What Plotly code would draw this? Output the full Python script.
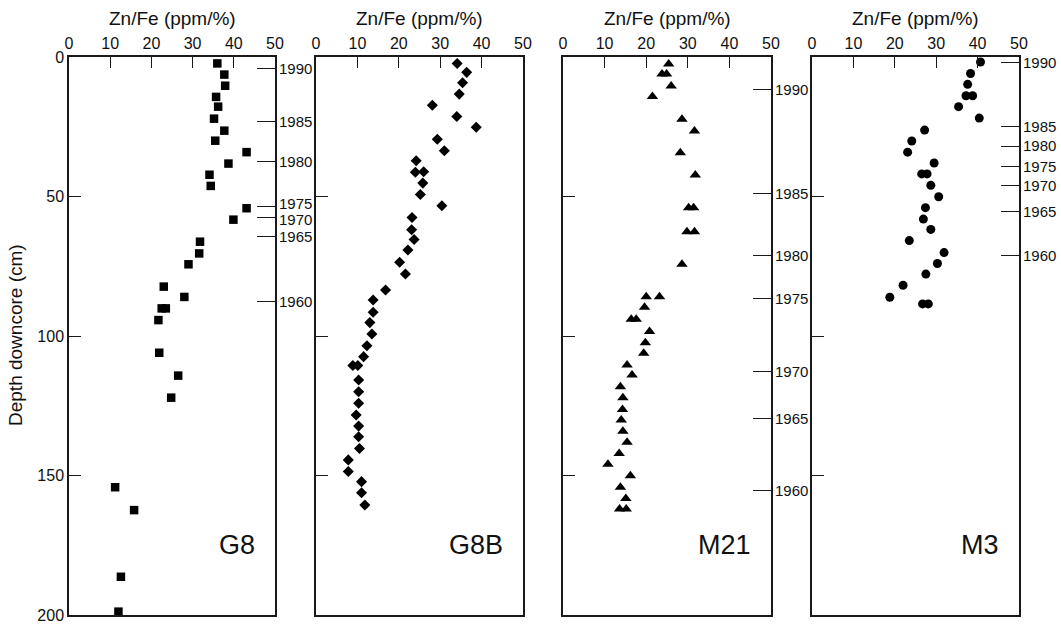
import plotly.graph_objects as go

# ---------------- data ----------------
g8_zn = [36.0, 37.7, 37.9, 35.7, 36.2, 35.2, 37.7, 35.5, 43.1, 38.7, 34.1, 34.4, 43.1, 39.9,
         31.8, 31.6, 29.0, 23.0, 28.0, 22.5, 23.5, 21.7, 21.9, 26.5, 24.8, 11.2, 15.8, 12.6, 12.0]
g8_depth = [2.3, 6.3, 10.3, 14.3, 17.8, 22.1, 26.4, 30.0, 34.1, 38.2, 42.2, 46.2, 54.2, 58.3,
            66.2, 70.4, 74.3, 82.3, 86.0, 90.1, 90.1, 94.3, 106.0, 114.2, 122.1, 154.2, 162.4, 186.3, 198.8]

g8b_zn = [34.1, 36.4, 35.4, 34.6, 28.1, 34.0, 38.7, 29.3, 31.0, 24.2, 24.0, 26.0, 25.8, 25.2,
          30.4, 23.2, 23.1, 23.7, 22.2, 20.2, 21.6, 16.8, 13.8, 13.8, 13.0, 13.5, 12.3, 11.5,
          8.9, 10.1, 10.3, 10.3, 10.3, 9.7, 10.3, 10.3, 10.5, 7.8, 7.8, 11.0, 11.0, 11.8]
g8b_depth = [2.3, 5.5, 9.2, 13.3, 17.3, 21.3, 25.2, 29.5, 33.6, 37.2, 41.3, 41.1, 45.2, 49.3,
             53.3, 57.5, 61.9, 65.4, 69.2, 73.6, 77.8, 83.5, 87.1, 91.5, 95.2, 99.3, 103.5, 107.4,
             110.6, 110.6, 115.8, 120.0, 124.1, 128.3, 132.3, 136.1, 140.3, 144.4, 148.6, 152.2, 156.2, 160.6]

m21_zn = [25.4, 23.8, 24.9, 26.0, 21.5, 28.6, 31.6, 28.2, 31.8, 30.2, 31.4, 29.8, 31.6, 28.6,
          20.0, 23.2, 19.6, 16.4, 17.6, 20.8, 19.8, 19.4, 15.4, 16.6, 13.8, 14.4, 14.3, 14.0,
          14.4, 15.4, 13.5, 10.8, 16.2, 13.8, 15.1, 13.6, 15.2]
m21_depth = [2.5, 6.1, 6.1, 10.4, 14.2, 22.3, 26.5, 34.3, 42.3, 54.0, 54.0, 62.6, 62.6, 74.3,
             85.9, 85.9, 89.7, 94.0, 94.0, 98.4, 102.4, 106.2, 110.4, 114.0, 118.2, 122.1, 126.3, 130.1,
             134.1, 138.1, 142.1, 146.0, 150.1, 154.2, 158.2, 162.0, 162.0]

m3_zn = [40.7, 38.3, 37.6, 37.2, 38.8, 35.4, 40.4, 27.2, 24.1, 23.1, 29.5, 26.5, 27.8, 28.7,
         30.6, 27.4, 26.9, 28.7, 23.5, 31.9, 30.3, 27.5, 22.0, 18.8, 26.7, 28.1]
m3_depth = [1.8, 5.9, 9.8, 13.9, 13.9, 17.8, 21.9, 26.2, 30.1, 34.1, 38.0, 41.9, 41.9, 46.0,
            50.1, 54.0, 58.1, 61.8, 65.8, 70.1, 74.0, 77.8, 81.8, 86.1, 88.5, 88.5]

# date (year) markers on the right-hand axes: depth position and year label
g8_date_depth = [4.1, 23.2, 37.3, 53.5, 57.5, 64.4, 87.7]
m21_date_depth = [11.6, 48.9, 71.0, 86.5, 112.8, 129.7, 155.2]
m3_date_depth = [2.0, 25.0, 31.9, 39.3, 45.9, 55.2, 71.3]
date_years = ["1990", "1985", "1980", "1975", "1970", "1965", "1960"]

core_names = ["G8", "G8B", "M21", "M3"]
zn_ticks = [0, 10, 20, 30, 40, 50]
depth_ticks = [0, 50, 100, 150, 200]

# ---------------- layout ----------------
W, H = 1061, 625
FONT = "Liberation Sans, Arial, Helvetica, sans-serif"
LINE = "#1a1a1a"
panels_px = [(69, 275), (316, 523), (563, 771), (812, 1019)]
top_px, bot_px = 57, 615
ydom = [1 - bot_px / H, 1 - top_px / H]
px_per_cm = (bot_px - top_px) / 200.0
DATE_FONT = 15
MIN_SEP = 16  # px between stacked year labels


def label_offsets(depths):
    """Small vertical nudges (px) so crowded year labels do not collide."""
    pos = [d * px_per_cm for d in depths]
    adj = list(pos)
    for _ in range(20):
        for k in range(1, len(adj)):
            gap = adj[k] - adj[k - 1]
            if gap < MIN_SEP:
                push = (MIN_SEP - gap) / 2
                adj[k - 1] -= push
                adj[k] += push
    return [a - p for a, p in zip(adj, pos)]


series = [
    (g8_zn, g8_depth, "square", 8.5),
    (g8b_zn, g8b_depth, "diamond", 8.5),
    (m21_zn, m21_depth, "triangle-up", 10),
    (m3_zn, m3_depth, "circle", 9),
]
dates = [g8_date_depth, None, m21_date_depth, m3_date_depth]

fig = go.Figure()
layout = dict(
    width=W, height=H,
    margin=dict(l=0, r=0, t=0, b=0, pad=0, autoexpand=False),
    paper_bgcolor="white", plot_bgcolor="white",
    showlegend=False,
    font=dict(family=FONT, color="#111", size=14),
)
annotations = []
extra_y = 5
for i, ((xs, ys, sym, sz), (x0, x1)) in enumerate(zip(series, panels_px)):
    n = "" if i == 0 else str(i + 1)
    xa, ya = "x" + n, "y" + n
    fig.add_trace(go.Scatter(
        x=xs, y=ys, mode="markers", xaxis=xa, yaxis=ya,
        marker=dict(symbol=sym, size=sz, color="black", line=dict(width=0)),
    ))
    layout["xaxis" + n] = dict(
        domain=[x0 / W, x1 / W], range=[0, 50], side="top", anchor=ya,
        tickvals=zn_ticks, ticks="inside", ticklen=11, tickwidth=1.3, tickcolor=LINE,
        showline=True, linecolor=LINE, linewidth=1.5, mirror=True, automargin=False,
        showgrid=False, zeroline=False, tickfont=dict(size=16, family=FONT),
        fixedrange=True,
    )
    layout["yaxis" + n] = dict(
        domain=ydom, range=[200, 0], anchor=xa, automargin=False,
        tickvals=depth_ticks, ticks="inside", ticklen=12, tickwidth=1.3, tickcolor=LINE,
        showticklabels=(i == 0), tickfont=dict(size=16, family=FONT),
        showline=True, linecolor=LINE, linewidth=1.5, mirror=True,
        showgrid=False, zeroline=False, fixedrange=True,
    )
    # axis title "Zn/Fe (ppm/%)"
    annotations.append(dict(
        text="Zn/Fe (ppm/%)", xref="paper", yref="paper",
        x=(x0 + x1) / 2 / W, y=1 - 19 / H, showarrow=False,
        font=dict(size=19, family=FONT, color="#111"), xanchor="center", yanchor="middle",
    ))
    # core name
    annotations.append(dict(
        text=core_names[i], xref="paper", yref="paper",
        x=(x1 - 18) / W, y=1 - 545 / H, showarrow=False,
        font=dict(size=27, family=FONT, color="#111"), xanchor="right", yanchor="middle",
    ))
    if dates[i] is not None:
        yn = "y" + str(extra_y)
        layout["yaxis" + str(extra_y)] = dict(
            overlaying=ya, anchor=xa, side="right", range=[200, 0], automargin=False,
            tickvals=dates[i], ticks="inside", ticklen=18, showticklabels=False,
            tickwidth=1.3, tickcolor=LINE, showline=False, showgrid=False, zeroline=False,
            fixedrange=True,
        )
        fig.add_trace(go.Scatter(x=[None], y=[None], xaxis=xa, yaxis=yn,
                                 mode="markers", hoverinfo="skip"))
        for d, yr, off in zip(dates[i], date_years, label_offsets(dates[i])):
            annotations.append(dict(
                text=yr, xref=xa + " domain", yref=ya, x=1, y=d,
                xanchor="left", yanchor="middle", xshift=2, yshift=-off,
                showarrow=False, font=dict(size=DATE_FONT, family=FONT, color="#111"),
            ))
        extra_y += 1

annotations.append(dict(
    text="Depth downcore (cm)", xref="paper", yref="paper",
    x=15 / W, y=1 - 335 / H, showarrow=False, textangle=-90,
    font=dict(size=19, family=FONT, color="#111"), xanchor="center", yanchor="middle",
))
layout["annotations"] = annotations
fig.update_layout(**layout)
fig.write_html("out.html")
